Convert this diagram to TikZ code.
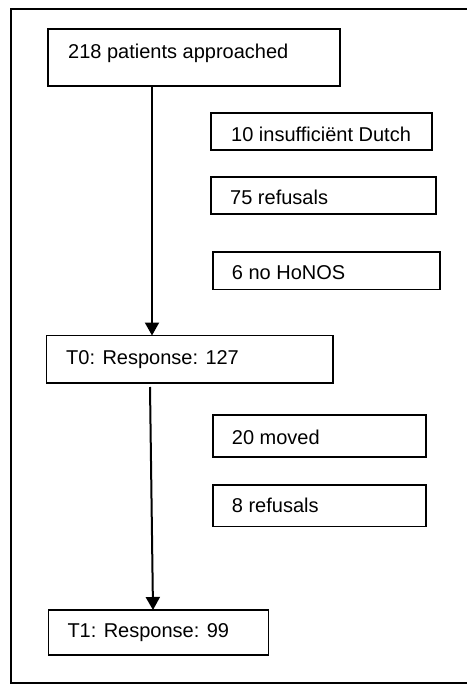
\documentclass[tikz,border=0pt]{standalone}
\usepackage{fontspec}
\setmainfont{Liberation Sans}
\usetikzlibrary{arrows.meta}
\begin{document}
\begin{tikzpicture}[x=1pt,y=-1pt,
  boxst/.style={draw=black,line width=1.1pt},
  lbl/.style={anchor=base west,inner sep=0pt,font=\fontsize{20pt}{24pt}\selectfont},
  flow/.style={line width=2pt,-{Triangle[width=14pt,length=13pt]}}]
\useasboundingbox (0,0) rectangle (466,684);
% outer frame (right side cut off)
\draw[line width=2pt,black] (470,9.5) -- (10.5,9.5) -- (10.5,683) -- (470,683);
% boxes
\draw[boxst] (48,29) rectangle (340,86);
\node[lbl] (t1) at (68,59) {218 patients approached};
\coordinate (b1s) at (152,86);
\draw[boxst] (211,113) rectangle (432,150);
\node[lbl] (t2) at (231,141.7) {10 insuffici\"ent Dutch};
\draw[boxst] (211,177) rectangle (436,214);
\node[lbl] (t3) at (230,204.3) {75 refusals};
\draw[boxst] (213,252) rectangle (440,289.5);
\node[lbl] (t4) at (231.7,279.3) {6 no HoNOS};
\draw[boxst] (46.5,335.5) rectangle (333,383);
\node[lbl] (t5) at (66,364.3) {T0: Response: 127};
\coordinate (b2n) at (152,335.5);
\coordinate (b2s) at (150,387);
\draw[boxst] (213,415) rectangle (426,457);
\node[lbl] (t6) at (231.7,444) {20 moved};
\draw[boxst] (213,485) rectangle (426,526.5);
\node[lbl] (t7) at (231.7,512.7) {8 refusals};
\draw[boxst] (48.5,610) rectangle (268.5,655);
\node[lbl] (t8) at (67.3,637.7) {T1: Response: 99};
\coordinate (b3n) at (153,610);
% arrows
\draw[flow] (b1s) -- (b2n);
\draw[flow] (b2s) -- (b3n);
\end{tikzpicture}
\end{document}
